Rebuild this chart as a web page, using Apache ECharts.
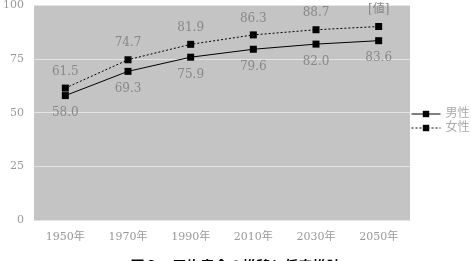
<!DOCTYPE html>
<html>
<head>
<meta charset="utf-8">
<style>
  html, body { margin: 0; padding: 0; background: #fff; }
  #main { width: 471px; height: 261px; }
</style>
<script src="https://cdn.jsdelivr.net/npm/echarts@6/dist/echarts.min.js"></script>
</head>
<body>
<div id="main"></div>
<script>
// 平均寿命の推移と将来推計
var years = ['1950年', '1970年', '1990年', '2010年', '2030年', '2050年']
var maleData = [58.0, 69.3, 75.9, 79.6, 82.0, 83.6]
var femaleData = [61.5, 74.7, 81.9, 86.3, 88.7, 90.2]
var femaleLabels = ['61.5', '74.7', '81.9', '86.3', '88.7', '[値]']
var yTicks = [0, 25, 50, 75, 100]

var labelFont = '"DejaVu Serif", "Noto Sans CJK JP", serif'
var chart = echarts.init(document.getElementById('main'), null, { renderer: 'canvas' })

chart.setOption({
  backgroundColor: '#fff',
  animation: false,
  title: {
    text: '図２　平均寿命の推移と将来推計',
    left: 'center',
    top: 254,
    textStyle: { fontSize: 14, fontWeight: 'bold', color: '#000', fontFamily: '"Noto Sans CJK JP", sans-serif' }
  },
  legend: {
    orient: 'vertical',
    left: 411,
    top: 108,
    padding: 0,
    itemWidth: 29,
    itemHeight: 8,
    itemGap: 2,
    data: ['男性', '女性'],
    lineStyle: { width: 1 },
    textStyle: { color: '#aaa', fontSize: 12, fontFamily: labelFont }
  },
  grid: {
    left: 27,
    right: 61,
    top: 5,
    bottom: 41,
    show: true,
    backgroundColor: '#c4c4c4',
    borderWidth: 0
  },
  xAxis: {
    type: 'category',
    data: years,
    boundaryGap: true,
    axisLine: { lineStyle: { color: '#e4e4e4' } },
    axisTick: { show: false },
    axisLabel: { color: '#999', fontSize: 11, margin: 12, fontFamily: labelFont }
  },
  yAxis: {
    type: 'value',
    min: yTicks[0],
    max: yTicks[yTicks.length - 1],
    interval: 25,
    axisLine: { show: false },
    axisTick: { show: false },
    axisLabel: { color: '#999', fontSize: 11, margin: 10, fontFamily: labelFont },
    splitLine: { lineStyle: { color: '#e4e4e4', width: 1 } }
  },
  series: [
    {
      name: '男性',
      type: 'line',
      data: maleData,
      symbol: 'rect',
      symbolSize: 7,
      itemStyle: { color: '#000' },
      lineStyle: { color: '#000', width: 1 },
      label: {
        show: true,
        position: 'bottom',
        distance: 8,
        color: '#888',
        fontSize: 12,
        fontFamily: labelFont,
        formatter: function (p) { return p.value.toFixed(1) }
      }
    },
    {
      name: '女性',
      type: 'line',
      data: femaleData,
      symbol: 'rect',
      symbolSize: 7,
      itemStyle: { color: '#000' },
      lineStyle: { color: '#000', width: 1, type: [2, 2] },
      label: {
        show: true,
        position: 'top',
        distance: 7,
        color: '#888',
        fontSize: 12,
        fontFamily: labelFont,
        formatter: function (p) { return femaleLabels[p.dataIndex] }
      }
    }
  ]
})
</script>
</body>
</html>
